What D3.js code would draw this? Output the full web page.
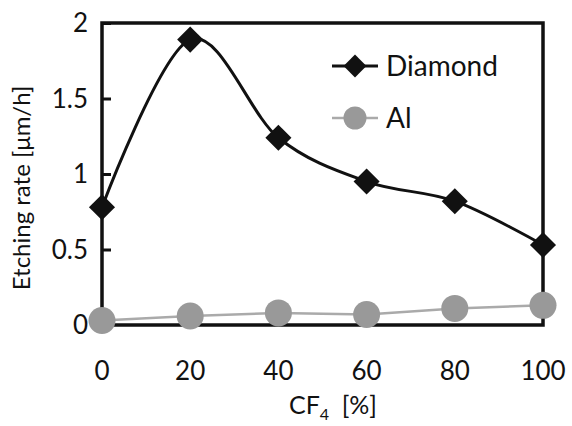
<!DOCTYPE html>
<html>
<head>
<meta charset="utf-8">
<script src="https://cdn.jsdelivr.net/npm/d3@7"></script>
<style>
  html, body { margin: 0; padding: 0; background: #fff; }
  svg { display: block; }
  text { font-family: Lato, "DejaVu Sans", sans-serif; font-weight: 400; fill: #111; }
</style>
</head>
<body>
<svg id="chart" width="572" height="426"></svg>
<script>
// CF4 concentration (%) and etching rates (µm/h)
const cf4 = [0, 20, 40, 60, 80, 100];
const diamondRate = [0.78, 1.89, 1.24, 0.95, 0.82, 0.53];
const alRate = [0.03, 0.06, 0.08, 0.07, 0.11, 0.13];
const xTicks = [0, 20, 40, 60, 80, 100];
const yTicks = [0, 0.5, 1, 1.5, 2];
const yTickLabels = ["0", "0.5", "1", "1.5", "2"];

const svg = d3.select("#chart");
const m = { left: 102, right: 543, top: 23, bottom: 325 };

const x = d3.scaleLinear().domain([0, 100]).range([m.left, m.right]);
const y = d3.scaleLinear().domain([0, 2]).range([m.bottom, m.top]);

// Y axis: inward ticks on the left edge
const yAxis = d3.axisRight(y).tickValues(yTicks).tickSize(9).tickFormat("");
const yg = svg.append("g").attr("transform", `translate(${m.left},0)`).call(yAxis);
yg.select(".domain").remove();
yg.selectAll("line").attr("stroke", "#111").attr("stroke-width", 3);

// Y tick labels
svg.append("g").selectAll("text").data(yTicks).join("text")
  .attr("x", m.left - 14)
  .attr("y", d => y(d))
  .attr("dy", "0.36em")
  .attr("text-anchor", "end")
  .attr("font-size", 26)
  .text((d, i) => yTickLabels[i]);

// X tick labels (no tick marks)
svg.append("g").selectAll("text").data(xTicks).join("text")
  .attr("x", d => x(d))
  .attr("y", 380)
  .attr("text-anchor", "middle")
  .attr("font-size", 26)
  .text(d => d);

// Plot frame
svg.append("rect")
  .attr("x", m.left).attr("y", m.top)
  .attr("width", m.right - m.left).attr("height", m.bottom - m.top)
  .attr("fill", "none").attr("stroke", "#111").attr("stroke-width", 3.5);

// Axis titles
svg.append("text")
  .attr("transform", `translate(30,${(m.top + m.bottom) / 2 + 14}) rotate(-90)`)
  .attr("text-anchor", "middle")
  .attr("font-size", 24)
  .text("Etching rate [μm/h]");

const xt = svg.append("text")
  .attr("x", 333).attr("y", 414)
  .attr("text-anchor", "middle")
  .attr("font-size", 25);
xt.append("tspan").text("CF");
xt.append("tspan").attr("font-size", 16).attr("dy", 6).text("4");
xt.append("tspan").attr("dy", -6).text("\u2002[%]");

// Al series: straight grey line with round markers
const alData = cf4.map((c, i) => [c, alRate[i]]);
svg.append("path")
  .datum(alData)
  .attr("fill", "none").attr("stroke", "#aaa").attr("stroke-width", 2.5)
  .attr("d", d3.line().x(d => x(d[0])).y(d => y(d[1])));
svg.append("g").selectAll("circle").data(alData).join("circle")
  .attr("cx", d => x(d[0])).attr("cy", d => y(d[1])).attr("r", 13.5)
  .attr("fill", "#999");

// Diamond series: smoothed black line with diamond markers
const diaData = cf4.map((c, i) => [c, diamondRate[i]]);
svg.append("path")
  .datum(diaData)
  .attr("fill", "none").attr("stroke", "#111").attr("stroke-width", 3)
  .attr("d", d3.line().x(d => x(d[0])).y(d => y(d[1])).curve(d3.curveCatmullRom.alpha(0)));
const diamond = d3.symbol().type(d3.symbolSquare).size(340);
svg.append("g").selectAll("path").data(diaData).join("path")
  .attr("transform", d => `translate(${x(d[0])},${y(d[1])}) rotate(45)`)
  .attr("d", diamond)
  .attr("fill", "#111");

// Legend
const legend = [
  { name: "Diamond", y: 66, color: "#111", width: 3, marker: "diamond" },
  { name: "Al", y: 118, color: "#aaa", width: 2.5, marker: "circle" }
];
const lg = svg.append("g").selectAll("g").data(legend).join("g")
  .attr("transform", d => `translate(0,${d.y})`);
lg.append("line")
  .attr("x1", 332).attr("x2", 378).attr("y1", 0).attr("y2", 0)
  .attr("stroke", d => d.color).attr("stroke-width", d => d.width);
lg.filter(d => d.marker === "diamond").append("path")
  .attr("transform", "translate(355,0) rotate(45)")
  .attr("d", d3.symbol().type(d3.symbolSquare).size(260))
  .attr("fill", "#111");
lg.filter(d => d.marker === "circle").append("circle")
  .attr("cx", 355).attr("cy", 0).attr("r", 11.5).attr("fill", "#999");
lg.append("text")
  .attr("x", 386).attr("y", 0).attr("dy", "0.36em")
  .attr("font-size", 28)
  .text(d => d.name);
</script>
</body>
</html>
